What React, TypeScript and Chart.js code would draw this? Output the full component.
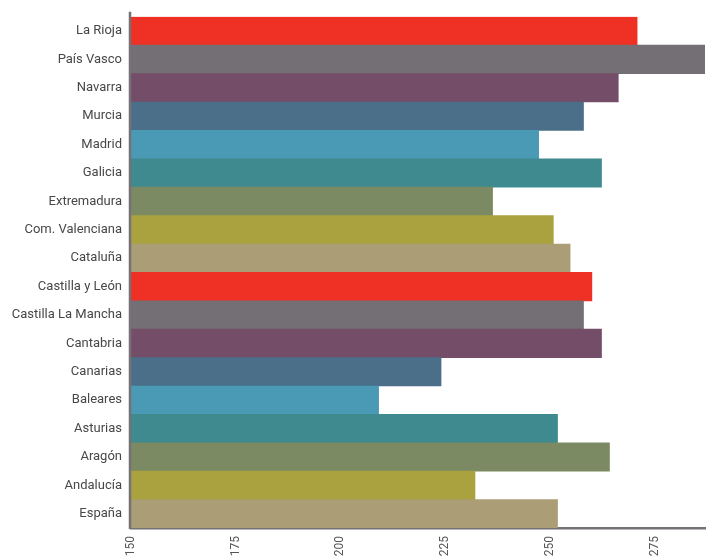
import React, { useEffect, useRef } from "react";
import { Chart, registerables } from "chart.js";

Chart.register(...registerables);

const categories = [
  "La Rioja", "País Vasco", "Navarra", "Murcia", "Madrid", "Galicia",
  "Extremadura", "Com. Valenciana", "Cataluña", "Castilla y León",
  "Castilla La Mancha", "Cantabria", "Canarias", "Baleares", "Asturias",
  "Aragón", "Andalucía", "España",
];

const values = [
  270.8, 287, 266.3, 258, 247.3, 262.3, 236.3, 250.8, 254.8, 260,
  258, 262.3, 224, 209.1, 251.8, 264.2, 232.1, 251.8,
];

const palette = [
  "#ee3124", "#736f74", "#744d69", "#4b6f88", "#4a9ab6",
  "#3e8a8f", "#7c8a63", "#a9a23e", "#ab9d76",
];

const xMin = 150;
const xMax = 287;
const xStep = 25;

const axisColor = "#757176";

const yAxisLinePlugin = {
  id: "yAxisLine",
  afterDraw(chart: any) {
    const { ctx, chartArea } = chart;
    ctx.save();
    ctx.strokeStyle = axisColor;
    ctx.lineWidth = 2.5;
    ctx.beginPath();
    ctx.moveTo(chartArea.left - 1, chartArea.top - 5);
    ctx.lineTo(chartArea.left - 1, chartArea.bottom + 1);
    ctx.stroke();
    ctx.restore();
  },
};

export default function App() {
  const ref = useRef<HTMLCanvasElement | null>(null);
  useEffect(() => {
    if (!ref.current) return;
    const chart = new Chart(ref.current, {
      type: "bar",
      data: {
        labels: categories,
        datasets: [
          {
            data: values,
            backgroundColor: categories.map((_, i) => palette[i % palette.length]),
            barPercentage: 1,
            categoryPercentage: 1,
            borderWidth: 0,
          },
        ],
      },
      options: {
        indexAxis: "y",
        animation: false,
        responsive: true,
        maintainAspectRatio: false,
        layout: { padding: { top: 15, right: 5, left: 0, bottom: 0 } },
        plugins: { legend: { display: false }, tooltip: { enabled: false } },
        scales: {
          x: {
            min: xMin,
            max: xMax,
            grid: { display: false, drawTicks: false },
            border: { display: true, color: axisColor, width: 2.5 },
            ticks: {
              stepSize: xStep,
              includeBounds: false,
              minRotation: 90,
              maxRotation: 90,
              padding: 8,
              color: "#555",
              font: { family: "Roboto", size: 12 },
            },
            afterFit(scale: any) {
              scale.height = 30;
            },
          },
          y: {
            grid: { display: false, drawTicks: false },
            border: { display: false },
            ticks: {
              padding: 9,
              color: "#474747",
              font: { family: "Roboto", size: 13 },
            },
            afterFit(scale: any) {
              scale.width = 131;
            },
          },
        },
      },
      plugins: [yAxisLinePlugin],
    });
    return () => chart.destroy();
  }, []);
  return (
    <div style={{ position: "fixed", left: 0, top: 0, width: 710, height: 558 }}>
      <canvas ref={ref} />
    </div>
  );
}
